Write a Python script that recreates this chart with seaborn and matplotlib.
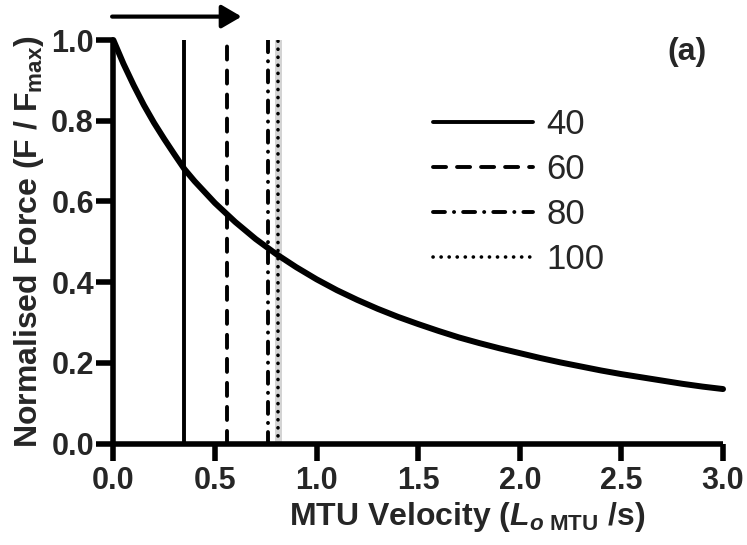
import matplotlib
matplotlib.use("Agg")
import matplotlib.pyplot as plt
import pandas as pd
import seaborn as sns
from matplotlib.patches import FancyArrowPatch

# Force-velocity relation of the muscle-tendon unit
velocity = [0.0, 0.05, 0.1, 0.15, 0.2, 0.25, 0.3, 0.35, 0.4, 0.5, 0.6, 0.7,
            0.8, 0.9, 1.0, 1.1, 1.2, 1.3, 1.4, 1.5, 1.6, 1.7, 1.8, 1.9, 2.0,
            2.1, 2.2, 2.3, 2.4, 2.5, 2.6, 2.7, 2.8, 2.9, 3.0]
force = [1.0, 0.941, 0.888, 0.839, 0.795, 0.755, 0.717, 0.680, 0.650, 0.596,
         0.549, 0.507, 0.470, 0.437, 0.407, 0.380, 0.356, 0.334, 0.314, 0.296,
         0.279, 0.263, 0.249, 0.236, 0.224, 0.212, 0.201, 0.191, 0.181, 0.172,
         0.164, 0.156, 0.148, 0.141, 0.135]

# Peak velocities for each condition
condition_labels = ["40", "60", "80", "100"]
condition_velocity = [0.35, 0.56, 0.76, 0.81]
condition_band = [0.795, 0.828]

x_ticks = [0.0, 0.5, 1.0, 1.5, 2.0, 2.5, 3.0]
y_ticks = [0.0, 0.2, 0.4, 0.6, 0.8, 1.0]

sns.set_theme(style="ticks")
plt.rcParams["font.family"] = ["Liberation Sans", "DejaVu Sans"]
plt.rcParams["mathtext.fontset"] = "custom"
plt.rcParams["mathtext.rm"] = "Liberation Sans:bold"
plt.rcParams["mathtext.bf"] = "Liberation Sans:bold"
plt.rcParams["mathtext.it"] = "Liberation Sans:italic:bold"
plt.rcParams["lines.scale_dashes"] = False

fig = plt.figure(figsize=(7.47, 5.45), dpi=100)
ax = fig.add_axes([0.1517, 0.1862, 0.8162, 0.7404])

df = pd.DataFrame({"velocity": velocity, "force": force})
sns.lineplot(data=df, x="velocity", y="force", ax=ax, color="black",
             linewidth=4.3, clip_on=False, zorder=4, solid_capstyle="round")

ax.axvspan(condition_band[0], condition_band[1], ymin=0, ymax=1,
           color="#d4d4d4", lw=0, zorder=1)

styles = [
    dict(linestyle="-", linewidth=2.8),
    dict(linestyle=(0, (9.4, 7.9)), linewidth=2.8, dash_capstyle="round"),
    dict(linestyle=(0, (8.6, 6.5, 0.1, 6.5)), linewidth=2.8, dash_capstyle="round"),
    dict(linestyle=(0, (0.1, 5.7)), linewidth=2.6, dash_capstyle="round"),
]
handles = []
for v, lab, st in zip(condition_velocity, condition_labels, styles):
    h = ax.axvline(v, ymin=0, ymax=1, color="black", label=lab, zorder=3, **st)
    handles.append(h)

ax.set_xlim(0, 3.0)
ax.set_ylim(0, 1.0)
ax.set_xticks(x_ticks)
ax.set_yticks(y_ticks)
ax.set_xticklabels([f"{t:.1f}" for t in x_ticks], fontweight="bold", fontsize=22)
ax.set_yticklabels([f"{t:.1f}" for t in y_ticks], fontweight="bold", fontsize=22)
ax.tick_params(axis="both", direction="out", length=12, width=4, color="black")
ax.tick_params(axis="x", pad=4)
ax.tick_params(axis="y", pad=2)

sns.despine(ax=ax)
for side in ("left", "bottom"):
    ax.spines[side].set_linewidth(4)
    ax.spines[side].set_color("black")
    ax.spines[side].set_capstyle("butt")

ax.set_xlabel(r"MTU Velocity ($\mathit{L}_{\mathit{o}\ \mathrm{MTU}}$ /s)",
              fontsize=23, fontweight="bold")
ax.set_ylabel(r"Normalised Force (F / F$_{\mathrm{max}}$)",
              fontsize=23, fontweight="bold")
ax.xaxis.set_label_coords(0.58, -0.14)
ax.yaxis.set_label_coords(-0.11, 0.5)

leg = ax.legend(handles=handles, labels=condition_labels, loc="upper left",
                bbox_to_anchor=(0.524, 0.832), frameon=False, fontsize=25,
                handlelength=2.88, handletextpad=0.4, labelspacing=0.35,
                borderpad=0, borderaxespad=0)

ax.text(0.941, 0.97, "(a)", transform=ax.transAxes, fontsize=23,
        fontweight="bold", ha="center", va="center")

arrow = FancyArrowPatch((-0.006, 1.058), (0.631, 1.058),
                        transform=ax.transData,
                        arrowstyle="-|>,head_length=12,head_width=7",
                        mutation_scale=1, lw=3, color="black",
                        shrinkA=0, shrinkB=0, clip_on=False)
ax.add_patch(arrow)

fig.savefig("out.png", dpi=100)
